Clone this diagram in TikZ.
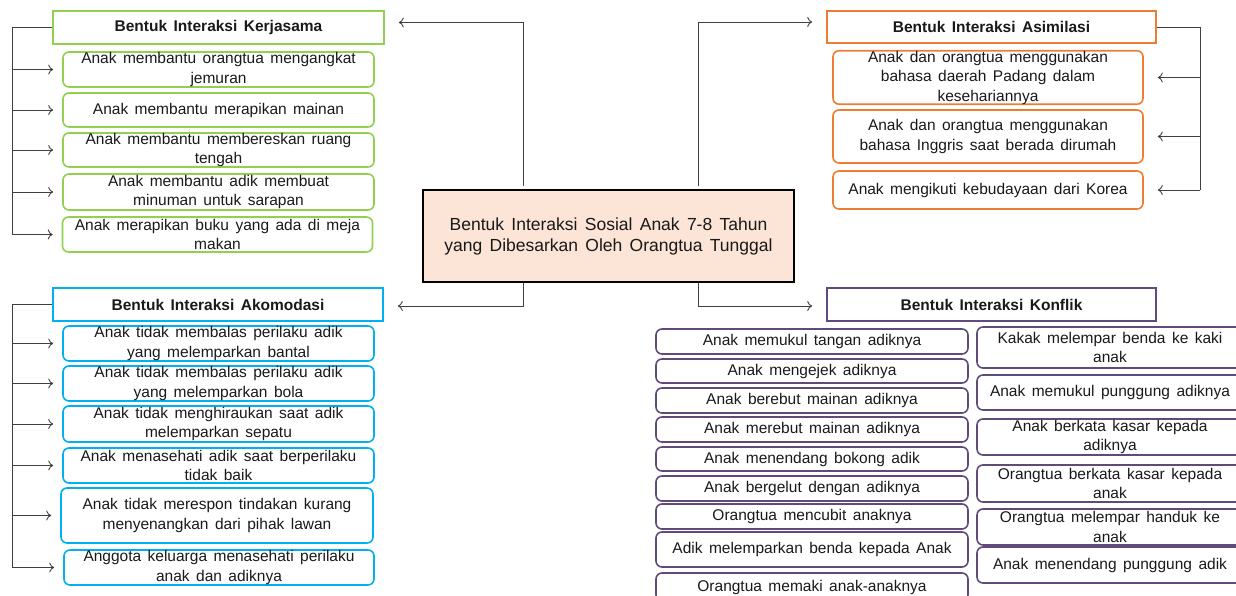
\documentclass[tikz,border=0pt]{standalone}
\usepackage{fontspec}
\setmainfont[WordSpace=1.5]{Liberation Sans}
\usetikzlibrary{arrows.meta}
\definecolor{kgreen}{HTML}{92D050}
\definecolor{aorange}{HTML}{ED7D31}
\definecolor{mblue}{HTML}{00B0F0}
\definecolor{fpurple}{HTML}{604A7B}
\definecolor{cpeach}{HTML}{FCE4D6}
\tikzset{
  hdr/.style={draw, line width=1.6, inner sep=0, font=\bfseries\fontsize{15.5}{18}\selectfont},
  itembox/.style={draw, rounded corners=6, line width=1.6, inner sep=0, align=center, font=\fontsize{15.5}{19.5}\selectfont},
  conn/.style={draw=black!75, line width=0.9, -{To[length=5,width=10]}},
  bar/.style={draw=black!75, line width=0.9},
}
\begin{document}
\begin{tikzpicture}[x=1pt, y=-1pt, text=black!90]
    \useasboundingbox (0,0) rectangle (1236,596);
    \clip (0,0) rectangle (1236,596);
    % centre
    \node [draw, line width=1.8, fill=cpeach, minimum width=371, minimum height=92, inner sep=0, align=center,
           font=\fontsize{17.5}{21}\selectfont] (c) at (608.5,236)
          {Bentuk Interaksi Sosial Anak 7-8 Tahun\\yang Dibesarkan Oleh Orangtua Tunggal};
    % kerjasama
    \node [hdr, draw=kgreen, minimum width=331, minimum height=33] (kh) at (218.5,27.5) {Bentuk Interaksi Kerjasama};
    \node [itembox, draw=kgreen, minimum width=311, minimum height=35] (k1) at (218.5,69.5) {Anak membantu orangtua mengangkat\\jemuran};
    \node [itembox, draw=kgreen, minimum width=311, minimum height=34] (k2) at (218.5,110) {Anak membantu merapikan mainan};
    \node [itembox, draw=kgreen, minimum width=311, minimum height=34] (k3) at (218.5,150) {Anak membantu membereskan ruang\\tengah};
    \node [itembox, draw=kgreen, minimum width=311, minimum height=36] (k4) at (218.5,192) {Anak membantu adik membuat\\minuman untuk sarapan};
    \node [itembox, draw=kgreen, minimum width=310, minimum height=35] (k5) at (217.5,234.5) {Anak merapikan buku yang ada di meja\\makan};
    % akomodasi
    \node [hdr, draw=mblue, minimum width=330, minimum height=33] (mh) at (218,304.5) {Bentuk Interaksi Akomodasi};
    \node [itembox, draw=mblue, minimum width=311, minimum height=35] (m1) at (218.5,343.5) {Anak tidak membalas perilaku adik\\yang melemparkan bantal};
    \node [itembox, draw=mblue, minimum width=311, minimum height=35] (m2) at (218.5,383.5) {Anak tidak membalas perilaku adik\\yang melemparkan bola};
    \node [itembox, draw=mblue, minimum width=311, minimum height=36] (m3) at (218.5,424) {Anak tidak menghiraukan saat adik\\melemparkan sepatu};
    \node [itembox, draw=mblue, minimum width=311, minimum height=35] (m4) at (218.5,465.5) {Anak menasehati adik saat berperilaku\\tidak baik};
    \node [itembox, draw=mblue, minimum width=312, minimum height=55] (m5) at (217,515.5) {Anak tidak merespon tindakan kurang\\menyenangkan dari pihak lawan};
    \node [itembox, draw=mblue, minimum width=310, minimum height=35] (m6) at (219,567.5) {Anggota keluarga menasehati perilaku\\anak dan adiknya};
    % asimilasi
    \node [hdr, draw=aorange, minimum width=329, minimum height=32] (ah) at (991.5,27) {Bentuk Interaksi Asimilasi};
    \node [itembox, draw=aorange, minimum width=310, minimum height=51] (a1) at (988,77.5) {Anak dan orangtua menggunakan\\bahasa daerah Padang dalam\\kesehariannya};
    \node [itembox, draw=aorange, minimum width=310, minimum height=53] (a2) at (988,136.5) {Anak dan orangtua menggunakan\\bahasa Inggris saat berada dirumah};
    \node [itembox, draw=aorange, minimum width=310, minimum height=38] (a3) at (988,190) {Anak mengikuti kebudayaan dari Korea};
    % konflik
    \node [hdr, draw=fpurple, minimum width=329, minimum height=33] (fh) at (991.5,304.5) {Bentuk Interaksi Konflik};
    \node [itembox, draw=fpurple, minimum width=312, minimum height=25] (f1) at (812,341.5) {Anak memukul tangan adiknya};
    \node [itembox, draw=fpurple, minimum width=312, minimum height=24] (f2) at (812,371) {Anak mengejek adiknya};
    \node [itembox, draw=fpurple, minimum width=312, minimum height=25] (f3) at (812,400.5) {Anak berebut mainan adiknya};
    \node [itembox, draw=fpurple, minimum width=312, minimum height=25] (f4) at (812,429.5) {Anak merebut mainan adiknya};
    \node [itembox, draw=fpurple, minimum width=312, minimum height=24] (f5) at (812,459) {Anak menendang bokong adik};
    \node [itembox, draw=fpurple, minimum width=312, minimum height=25] (f6) at (812,488.5) {Anak bergelut dengan adiknya};
    \node [itembox, draw=fpurple, minimum width=312, minimum height=25] (f7) at (812,516.5) {Orangtua mencubit anaknya};
    \node [itembox, draw=fpurple, minimum width=312, minimum height=35] (f8) at (812,549.5) {Adik melemparkan benda kepada Anak};
    \node [itembox, draw=fpurple, minimum width=312, minimum height=28] (f9) at (812,587) {Orangtua memaki anak-anaknya};
    \node [itembox, draw=fpurple, minimum width=266, minimum height=41] (g1) at (1110,347.5) {Kakak melempar benda ke kaki\\anak};
    \node [itembox, draw=fpurple, minimum width=266, minimum height=35] (g2) at (1110,392.5) {Anak memukul punggung adiknya};
    \node [itembox, draw=fpurple, minimum width=266, minimum height=36] (g3) at (1110,437) {Anak berkata kasar kepada\\adiknya};
    \node [itembox, draw=fpurple, minimum width=266, minimum height=37] (g4) at (1110,483.5) {Orangtua berkata kasar kepada\\anak};
    \node [itembox, draw=fpurple, minimum width=266, minimum height=36] (g5) at (1110,527) {Orangtua melempar handuk ke\\anak};
    \node [itembox, draw=fpurple, minimum width=266, minimum height=36] (g6) at (1110,565) {Anak menendang punggung adik};
    % centre to headers
    \coordinate (cl) at (523,186);
    \coordinate (cr) at (698,186);
    \draw [conn] (cl) |- ([xshift=14,yshift=5]kh.east);
    \draw [conn] (cr) |- ([xshift=-14,yshift=5]ah.west);
    \draw [conn] (c.south -| cl) |- ([xshift=14,yshift=-1.5]mh.east);
    \draw [conn] (c.south -| cr) |- ([xshift=-14,yshift=-1.5]fh.west);
    % brackets
    \coordinate (kl) at (12,0);
    \draw [bar] (kh.west) -| (kl |- k5.west);
    \foreach \n in {k1,k2,k3,k4,k5}
        \draw [conn] (kl |- \n.west) -- ([xshift=-9]\n.west);
    \draw [bar] (mh.west) -| (kl |- m6.west);
    \foreach \n in {m1,m2,m3,m4,m5,m6}
        \draw [conn] (kl |- \n.west) -- ([xshift=-9]\n.west);
    \coordinate (ar) at (1200,0);
    \draw [bar] (ah.east) -| (ar |- a3.east);
    \foreach \n in {a1,a2,a3}
        \draw [conn] (ar |- \n.east) -- ([xshift=14]\n.east);
\end{tikzpicture}
\end{document}
